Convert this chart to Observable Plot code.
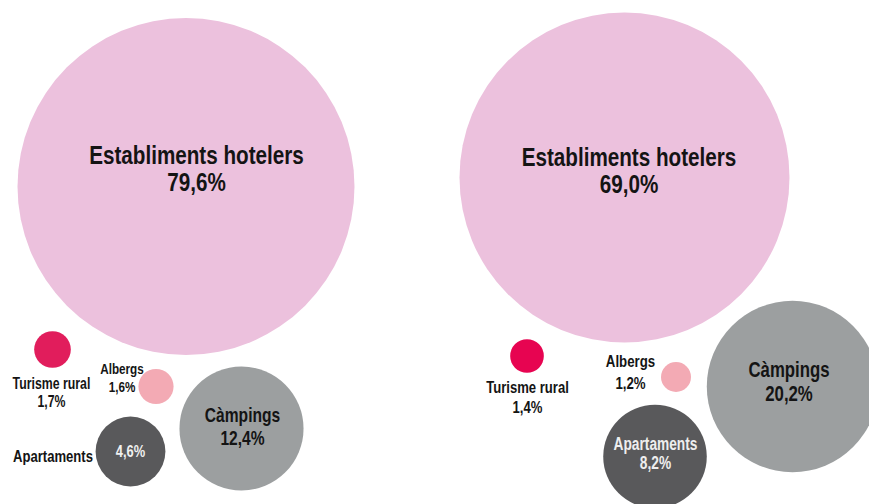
<!DOCTYPE html>
<html>
<head>
<meta charset="utf-8">
<script src="https://cdn.jsdelivr.net/npm/d3@7"></script>
<script src="https://cdn.jsdelivr.net/npm/@observablehq/plot@0.6"></script>
<style>
  html, body { margin: 0; padding: 0; background: #fff; }
  #chart { display: flex; width: 869px; height: 504px; overflow: hidden; }
  #chart svg { overflow: visible; }
</style>
</head>
<body>
<div id="chart"></div>
<script>
// ---- data ----
const categories = ["Establiments hotelers", "Càmpings", "Apartaments", "Turisme rural", "Albergs"];
const valuesLeft = [79.6, 12.4, 4.6, 1.7, 1.6];
const valuesRight = [69.0, 20.2, 8.2, 1.4, 1.2];
const colorsLeft = ["#ecc1dd", "#9c9fa0", "#59595b", "#e11d5c", "#f3aab4"];
const colorsRight = ["#ecc1dd", "#9c9fa0", "#59595b", "#e70451", "#f3aab4"];

// ---- layout (bubble centres, panel units) ----
const bubbleXLeft = [185.5, 241, 130, 52, 155.5];
const bubbleYLeft = [186, 428, 451, 349, 386];
const bubbleXRight = [189, 357, 219.5, 91.5, 240.5];
const bubbleYRight = [177, 386, 456, 355.5, 376.5];

const fmt = v => v.toFixed(1).replace(".", ",") + "%";
const FONT = "'Liberation Sans', Arial, Helvetica, sans-serif";
const SQUEEZE = 0.78; // condensed look

// label specs: [category index, part, x, y, fontSize, lineHeight, fill]
const labelsLeft = [
  [0, "both", 196, 168.5, 26.5, 1.03, "#141414"],
  [1, "both", 242, 426, 20, 1.13, "#141414"],
  [2, "name", 52.5, 456, 16.8, 1.1, "#141414"],
  [2, "value", 130, 451, 16.5, 1.1, "#f0f0f0"],
  [3, "both", 51, 391.5, 15.8, 1.17, "#141414"],
  [4, "both", 121.5, 377, 15, 1.17, "#141414"]
];
const labelsRight = [
  [0, "both", 193.5, 170.5, 26.5, 1.03, "#141414"],
  [1, "both", 353.5, 381, 21.5, 1.13, "#141414"],
  [2, "both", 220, 453, 17.6, 1.1, "#eeeeee"],
  [3, "both", 92, 396, 16.8, 1.2, "#141414"],
  [4, "both", 195, 370.5, 17, 1.3, "#141414"]
];

function panel(values, colors, bx, by, labels, rMax, width) {
  const rows = categories.map((c, i) => ({c, v: values[i], color: colors[i], x: bx[i], y: by[i]}));
  const textMarks = labels.map(([i, part, x, y, size, lh, fill]) => {
    const t = part === "both" ? categories[i] + "\n" + fmt(values[i])
            : part === "name" ? categories[i] : fmt(values[i]);
    return Plot.text([{x, y, t}], {
      x: "x", y: "y", text: "t",
      fontSize: size, lineHeight: lh, fill,
      fontWeight: "bold", fontFamily: FONT,
      lineAnchor: "middle", textAnchor: "middle"
    });
  });
  const svg = Plot.plot({
    width, height: 504, margin: 0,
    x: {domain: [0, width], range: [0, width], axis: null},
    y: {domain: [0, 504], range: [0, 504], axis: null},
    r: {type: "sqrt", domain: [0.14, d3.max(values)], range: [0, rMax]},
    color: {type: "identity"},
    marks: [
      Plot.dot(rows, {x: "x", y: "y", r: "v", fill: "color", stroke: null}),
      ...textMarks
    ]
  });
  svg.querySelectorAll("text").forEach(el => {
    const tr = el.getAttribute("transform") || "";
    el.setAttribute("transform", tr + ` scale(${SQUEEZE},1)`);
  });
  return svg;
}

const chart = document.getElementById("chart");
chart.append(panel(valuesLeft, colorsLeft, bubbleXLeft, bubbleYLeft, labelsLeft, 168.5, 435));
chart.append(panel(valuesRight, colorsRight, bubbleXRight, bubbleYRight, labelsRight, 165, 434));
</script>
</body>
</html>
